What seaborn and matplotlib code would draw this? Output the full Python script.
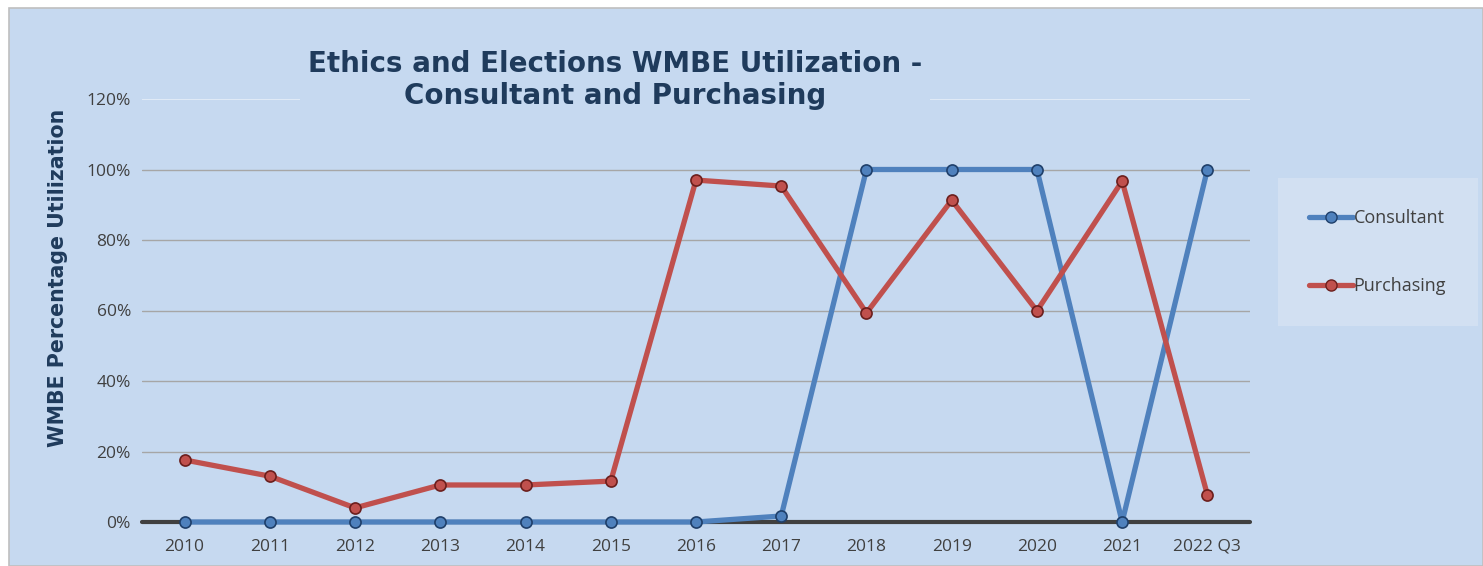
import numpy as np
import pandas as pd
import matplotlib
matplotlib.use("Agg")
import matplotlib.pyplot as plt
import seaborn as sns
from matplotlib.patches import Rectangle
from matplotlib.lines import Line2D

years = ['2010', '2011', '2012', '2013', '2014', '2015', '2016',
         '2017', '2018', '2019', '2020', '2021', '2022 Q3']
consultant = [0.0, 0.0, 0.0, 0.0, 0.0, 0.0, 0.0, 1.7, 100.0, 100.0, 100.0, 0.0, 100.0]
purchasing = [17.6, 13.0, 4.0, 10.5, 10.5, 11.6, 97.0, 95.3, 59.3, 91.3, 59.9, 96.7, 7.7]
series_names = ['Consultant', 'Purchasing']
series_colors = ['#4F81BD', '#C0504D']
edge_colors = ['#1F3F6A', '#6B1F1D']

df = pd.DataFrame({
    'Year': years * 2,
    'Value': consultant + purchasing,
    'Series': ['Consultant'] * len(years) + ['Purchasing'] * len(years),
})

bg = '#C6D9F0'
navy = '#1F3B5C'
sns.set_style('white')
plt.rcParams['font.family'] = ['Open Sans', 'DejaVu Sans']

fig = plt.figure(figsize=(14.83, 5.66), dpi=100)
fig.patch.set_facecolor('white')
fig.patches.append(Rectangle((9 / 1483, 0), 1 - 9 / 1483, 1 - 8 / 566, transform=fig.transFigure,
                             facecolor=bg, edgecolor='#BFBFBF', linewidth=1.2, zorder=-10))

ax = fig.add_axes([142 / 1483, 1 - 522 / 566, (1250 - 142) / 1483, (522 - 99) / 566])
ax.set_facecolor(bg)
ax.patch.set_alpha(0)

for i, name in enumerate(series_names):
    sub = df[df['Series'] == name]
    sns.lineplot(data=sub, x='Year', y='Value', ax=ax, sort=False, color=series_colors[i],
                 linewidth=3.8, marker='o', markersize=8, markerfacecolor=series_colors[i],
                 markeredgecolor=edge_colors[i], markeredgewidth=1.2, legend=False,
                 zorder=5 + i, clip_on=False)

ax.set_xlim(-0.5, len(years) - 0.5)
ax.set_ylim(0, 120)
ax.set_yticks(np.arange(0, 121, 20))
ax.set_yticklabels([f'{v}%' for v in range(0, 121, 20)])
for v in range(20, 101, 20):
    ax.axhline(v, color='#A6A6A6', linewidth=1, zorder=1)
ax.axhline(120, color='#E6EEF8', linewidth=1.2, zorder=1)
ax.axhline(0, color='#404040', linewidth=3, zorder=2, clip_on=False)
for s in ax.spines.values():
    s.set_visible(False)
ax.tick_params(axis='both', length=0, labelsize=12.5, colors='#404040', pad=8)
ax.tick_params(axis='x', pad=12)
ax.set_xlabel('')
ax.set_ylabel('WMBE Percentage Utilization', fontsize=14.8, fontweight='bold', color=navy,
              family=['DejaVu Sans'])
ax.yaxis.set_label_coords(-0.067, 0.577)

fig.text(615 / 1483, 1 - 80 / 566,
         'Ethics and Elections WMBE Utilization -\nConsultant and Purchasing',
         ha='center', va='center', fontsize=20, fontweight='bold', color=navy,
         linespacing=1.15, family=['DejaVu Sans'],
         bbox=dict(facecolor=bg, edgecolor='none', pad=6), zorder=10)

handles = [Line2D([0], [0], color=series_colors[i], linewidth=3.8, marker='o', markersize=8,
                  markerfacecolor=series_colors[i], markeredgecolor=edge_colors[i])
           for i in range(2)]
leg = fig.legend(handles, series_names, loc='upper left',
                 bbox_to_anchor=(1283 / 1483, 1 - 183 / 566), frameon=True, fontsize=13,
                 labelspacing=2.75, handlelength=2.4, handletextpad=0.05, borderpad=1.45,
                 borderaxespad=0)
leg.get_frame().set_facecolor('#D6E3F3')
leg.get_frame().set_edgecolor('none')
leg.get_frame().set_boxstyle('square')
for t in leg.get_texts():
    t.set_color('#404040')

fig.savefig('out.png', dpi=100, facecolor=fig.get_facecolor())
